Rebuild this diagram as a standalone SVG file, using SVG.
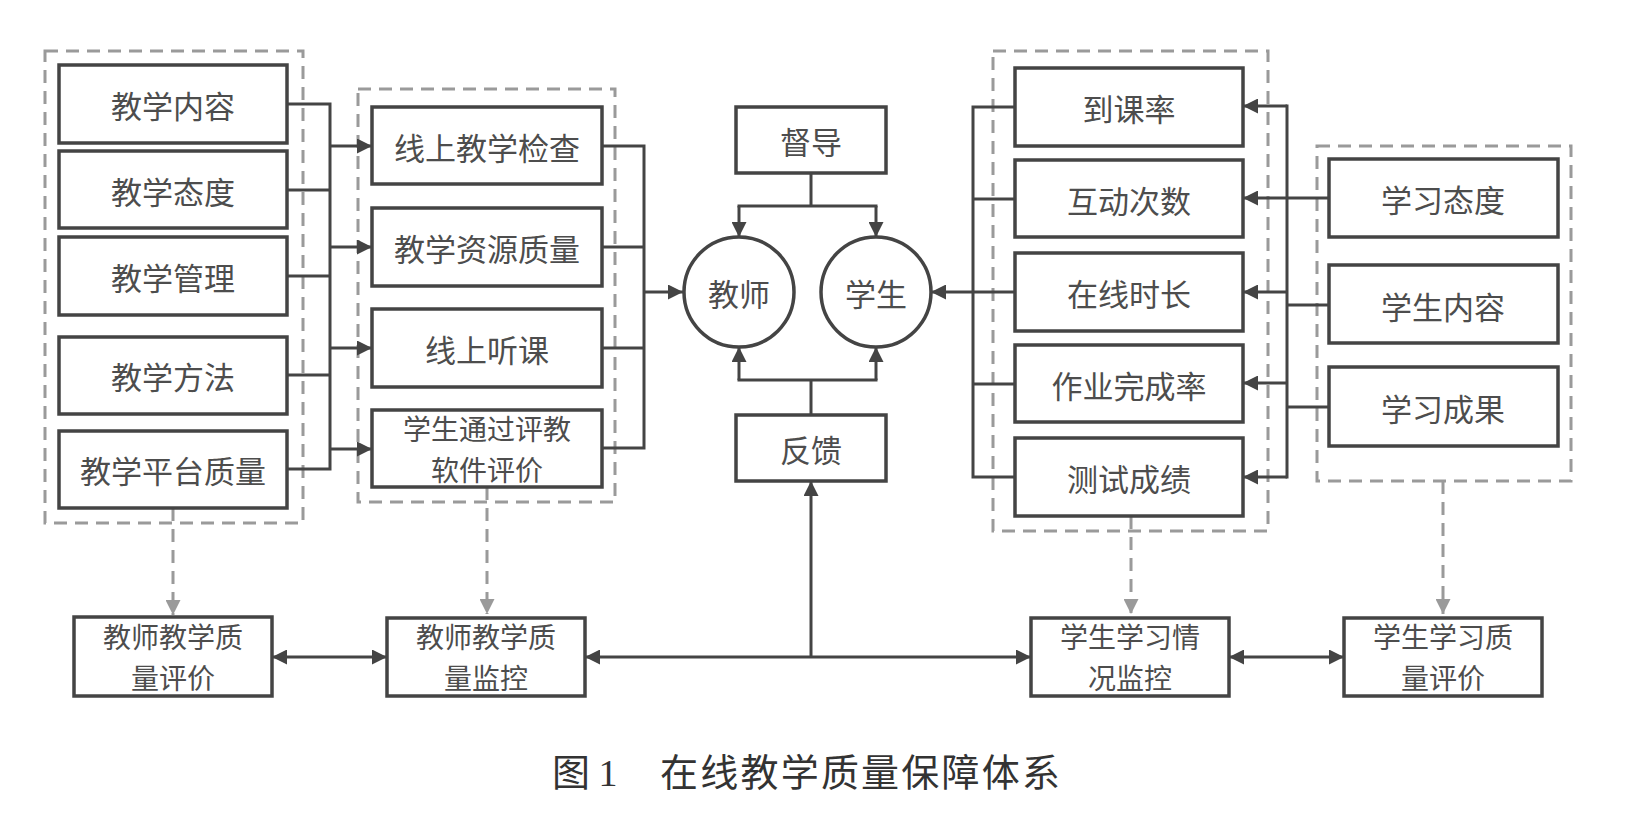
<svg xmlns="http://www.w3.org/2000/svg" width="1625" height="829" viewBox="0 0 1625 829">
<style>
.box{fill:#fff;stroke:#444;stroke-width:3.5}
.grp{fill:none;stroke:#9a9a9a;stroke-width:3;stroke-dasharray:13 8}
.t{font-family:"Noto Sans CJK SC","Noto Sans",sans-serif;font-size:31px;fill:#4d4d4d;text-anchor:middle;dominant-baseline:central}
.t2{font-size:28px}
.ln{fill:none;stroke:#444;stroke-width:3}
.arr{fill:none;stroke:#444;stroke-width:3;marker-end:url(#ah)}
.dar{fill:none;stroke:#9a9a9a;stroke-width:3;stroke-dasharray:13 8;marker-end:url(#ahg)}
.cap{font-family:"Noto Sans CJK SC",sans-serif;font-size:38px;fill:#333}
</style>
<defs>
<marker id="ah" viewBox="0 0 10 10" refX="10" refY="5" markerWidth="5.5" markerHeight="5" markerUnits="strokeWidth" orient="auto-start-reverse">
<path d="M0,0 L10,5 L0,10 z" fill="#444"/>
</marker>
<marker id="ahg" viewBox="0 0 10 10" refX="10" refY="5" markerWidth="5" markerHeight="5" markerUnits="strokeWidth" orient="auto">
<path d="M0,0 L10,5 L0,10 z" fill="#9a9a9a"/>
</marker>
</defs>

<g id="groups">
<rect class="grp" x="45" y="51" width="258" height="472"/>
<rect class="grp" x="358" y="89" width="257" height="413"/>
<rect class="grp" x="993" y="51" width="275" height="480"/>
<rect class="grp" x="1317" y="146" width="254" height="335"/>
</g>

<g id="connectors">
<path class="ln" d="M287,104 H330 M287,190 H330 M287,276 H330 M287,375 H330 M287,469 H330 M330,102.5 V470.5"/>
<path class="arr" d="M330,146 H372"/>
<path class="arr" d="M330,247 H372"/>
<path class="arr" d="M330,348 H372"/>
<path class="arr" d="M330,449 H372"/>
<path class="ln" d="M602,146 H644 M602,247 H644 M602,348 H644 M602,448 H644 M644,144.5 V449.5"/>
<path class="arr" d="M644,292 H683"/>
<path class="ln" d="M811,173 V206 M737.5,206 H877.5"/>
<path class="arr" d="M739,206 V237"/>
<path class="arr" d="M876,206 V237"/>
<path class="ln" d="M811,415 V380 M737.5,380 H877.5"/>
<path class="arr" d="M739,380 V347"/>
<path class="arr" d="M876,380 V347"/>
<path class="arr" d="M811,657 V481"/>
<path class="arr" d="M811,657 H585"/>
<path class="arr" d="M811,657 H1031"/>
<path class="arr" style="marker-start:url(#ah)" d="M272,657 H387"/>
<path class="arr" style="marker-start:url(#ah)" d="M1229,657 H1344"/>
<path class="ln" d="M1015,107 H973 M1015,199 H973 M1015,384 H973 M1015,477 H973 M973,105.5 V478.5 M1015,292 H973"/>
<path class="arr" d="M973,292 H931"/>
<path class="ln" d="M1287,104.5 V478.5 M1329,198 H1287 M1329,305 H1287 M1329,407 H1287"/>
<path class="arr" d="M1287,106 H1243"/>
<path class="arr" d="M1287,198 H1243"/>
<path class="arr" d="M1287,292 H1243"/>
<path class="arr" d="M1287,383 H1243"/>
<path class="arr" d="M1287,477 H1243"/>
<path class="dar" d="M173,508 V615"/>
<path class="dar" d="M487,487 V614"/>
<path class="dar" d="M1131,516 V614"/>
<path class="dar" d="M1443,481 V614"/>
</g>

<g id="n1"><rect class="box" x="59" y="65" width="228" height="78"/><text class="t" x="173" y="104">教学内容</text></g>
<g id="n2"><rect class="box" x="59" y="151" width="228" height="77"/><text class="t" x="173" y="190">教学态度</text></g>
<g id="n3"><rect class="box" x="59" y="237" width="228" height="78"/><text class="t" x="173" y="276">教学管理</text></g>
<g id="n4"><rect class="box" x="59" y="337" width="228" height="77"/><text class="t" x="173" y="375">教学方法</text></g>
<g id="n5"><rect class="box" x="59" y="431" width="228" height="77"/><text class="t" x="173" y="469">教学平台质量</text></g>

<g id="n6"><rect class="box" x="372" y="107" width="230" height="77"/><text class="t" x="487" y="146">线上教学检查</text></g>
<g id="n7"><rect class="box" x="372" y="208" width="230" height="78"/><text class="t" x="487" y="247">教学资源质量</text></g>
<g id="n8"><rect class="box" x="372" y="309" width="230" height="78"/><text class="t" x="487" y="348">线上听课</text></g>
<g id="n9"><rect class="box" x="372" y="410" width="230" height="77"/><text class="t t2"><tspan x="487" y="428">学生通过评教</tspan><tspan x="487" y="469">软件评价</tspan></text></g>

<g id="n10"><rect class="box" x="736" y="107" width="150" height="66"/><text class="t" x="811" y="140">督导</text></g>
<g id="n11"><circle class="box" cx="739" cy="292" r="55"/><text class="t" x="739" y="292">教师</text></g>
<g id="n12"><circle class="box" cx="876" cy="292" r="55"/><text class="t" x="876" y="292">学生</text></g>
<g id="n13"><rect class="box" x="736" y="415" width="150" height="66"/><text class="t" x="811" y="448">反馈</text></g>

<g id="n14"><rect class="box" x="1015" y="68" width="228" height="78"/><text class="t" x="1129" y="107">到课率</text></g>
<g id="n15"><rect class="box" x="1015" y="160" width="228" height="77"/><text class="t" x="1129" y="199">互动次数</text></g>
<g id="n16"><rect class="box" x="1015" y="253" width="228" height="78"/><text class="t" x="1129" y="292">在线时长</text></g>
<g id="n17"><rect class="box" x="1015" y="345" width="228" height="77"/><text class="t" x="1129" y="384">作业完成率</text></g>
<g id="n18"><rect class="box" x="1015" y="438" width="228" height="78"/><text class="t" x="1129" y="477">测试成绩</text></g>

<g id="n19"><rect class="box" x="1329" y="159" width="229" height="78"/><text class="t" x="1443" y="198">学习态度</text></g>
<g id="n20"><rect class="box" x="1329" y="265" width="229" height="78"/><text class="t" x="1443" y="305">学生内容</text></g>
<g id="n21"><rect class="box" x="1329" y="367" width="229" height="79"/><text class="t" x="1443" y="407">学习成果</text></g>

<g id="n22"><rect class="box" x="74" y="617" width="198" height="79"/><text class="t t2"><tspan x="173" y="636">教师教学质</tspan><tspan x="173" y="677">量评价</tspan></text></g>
<g id="n23"><rect class="box" x="387" y="618" width="198" height="78"/><text class="t t2"><tspan x="486" y="636">教师教学质</tspan><tspan x="486" y="677">量监控</tspan></text></g>
<g id="n24"><rect class="box" x="1031" y="618" width="198" height="78"/><text class="t t2"><tspan x="1130" y="636">学生学习情</tspan><tspan x="1130" y="677">况监控</tspan></text></g>
<g id="n25"><rect class="box" x="1344" y="618" width="198" height="78"/><text class="t t2"><tspan x="1443" y="636">学生学习质</tspan><tspan x="1443" y="677">量评价</tspan></text></g>

<g id="caption">
<text class="cap" x="552" y="786">图 <tspan font-family="Liberation Serif,serif">1</tspan></text>
<text class="cap" x="660" y="786" textLength="400">在线教学质量保障体系</text>
</g>
</svg>
